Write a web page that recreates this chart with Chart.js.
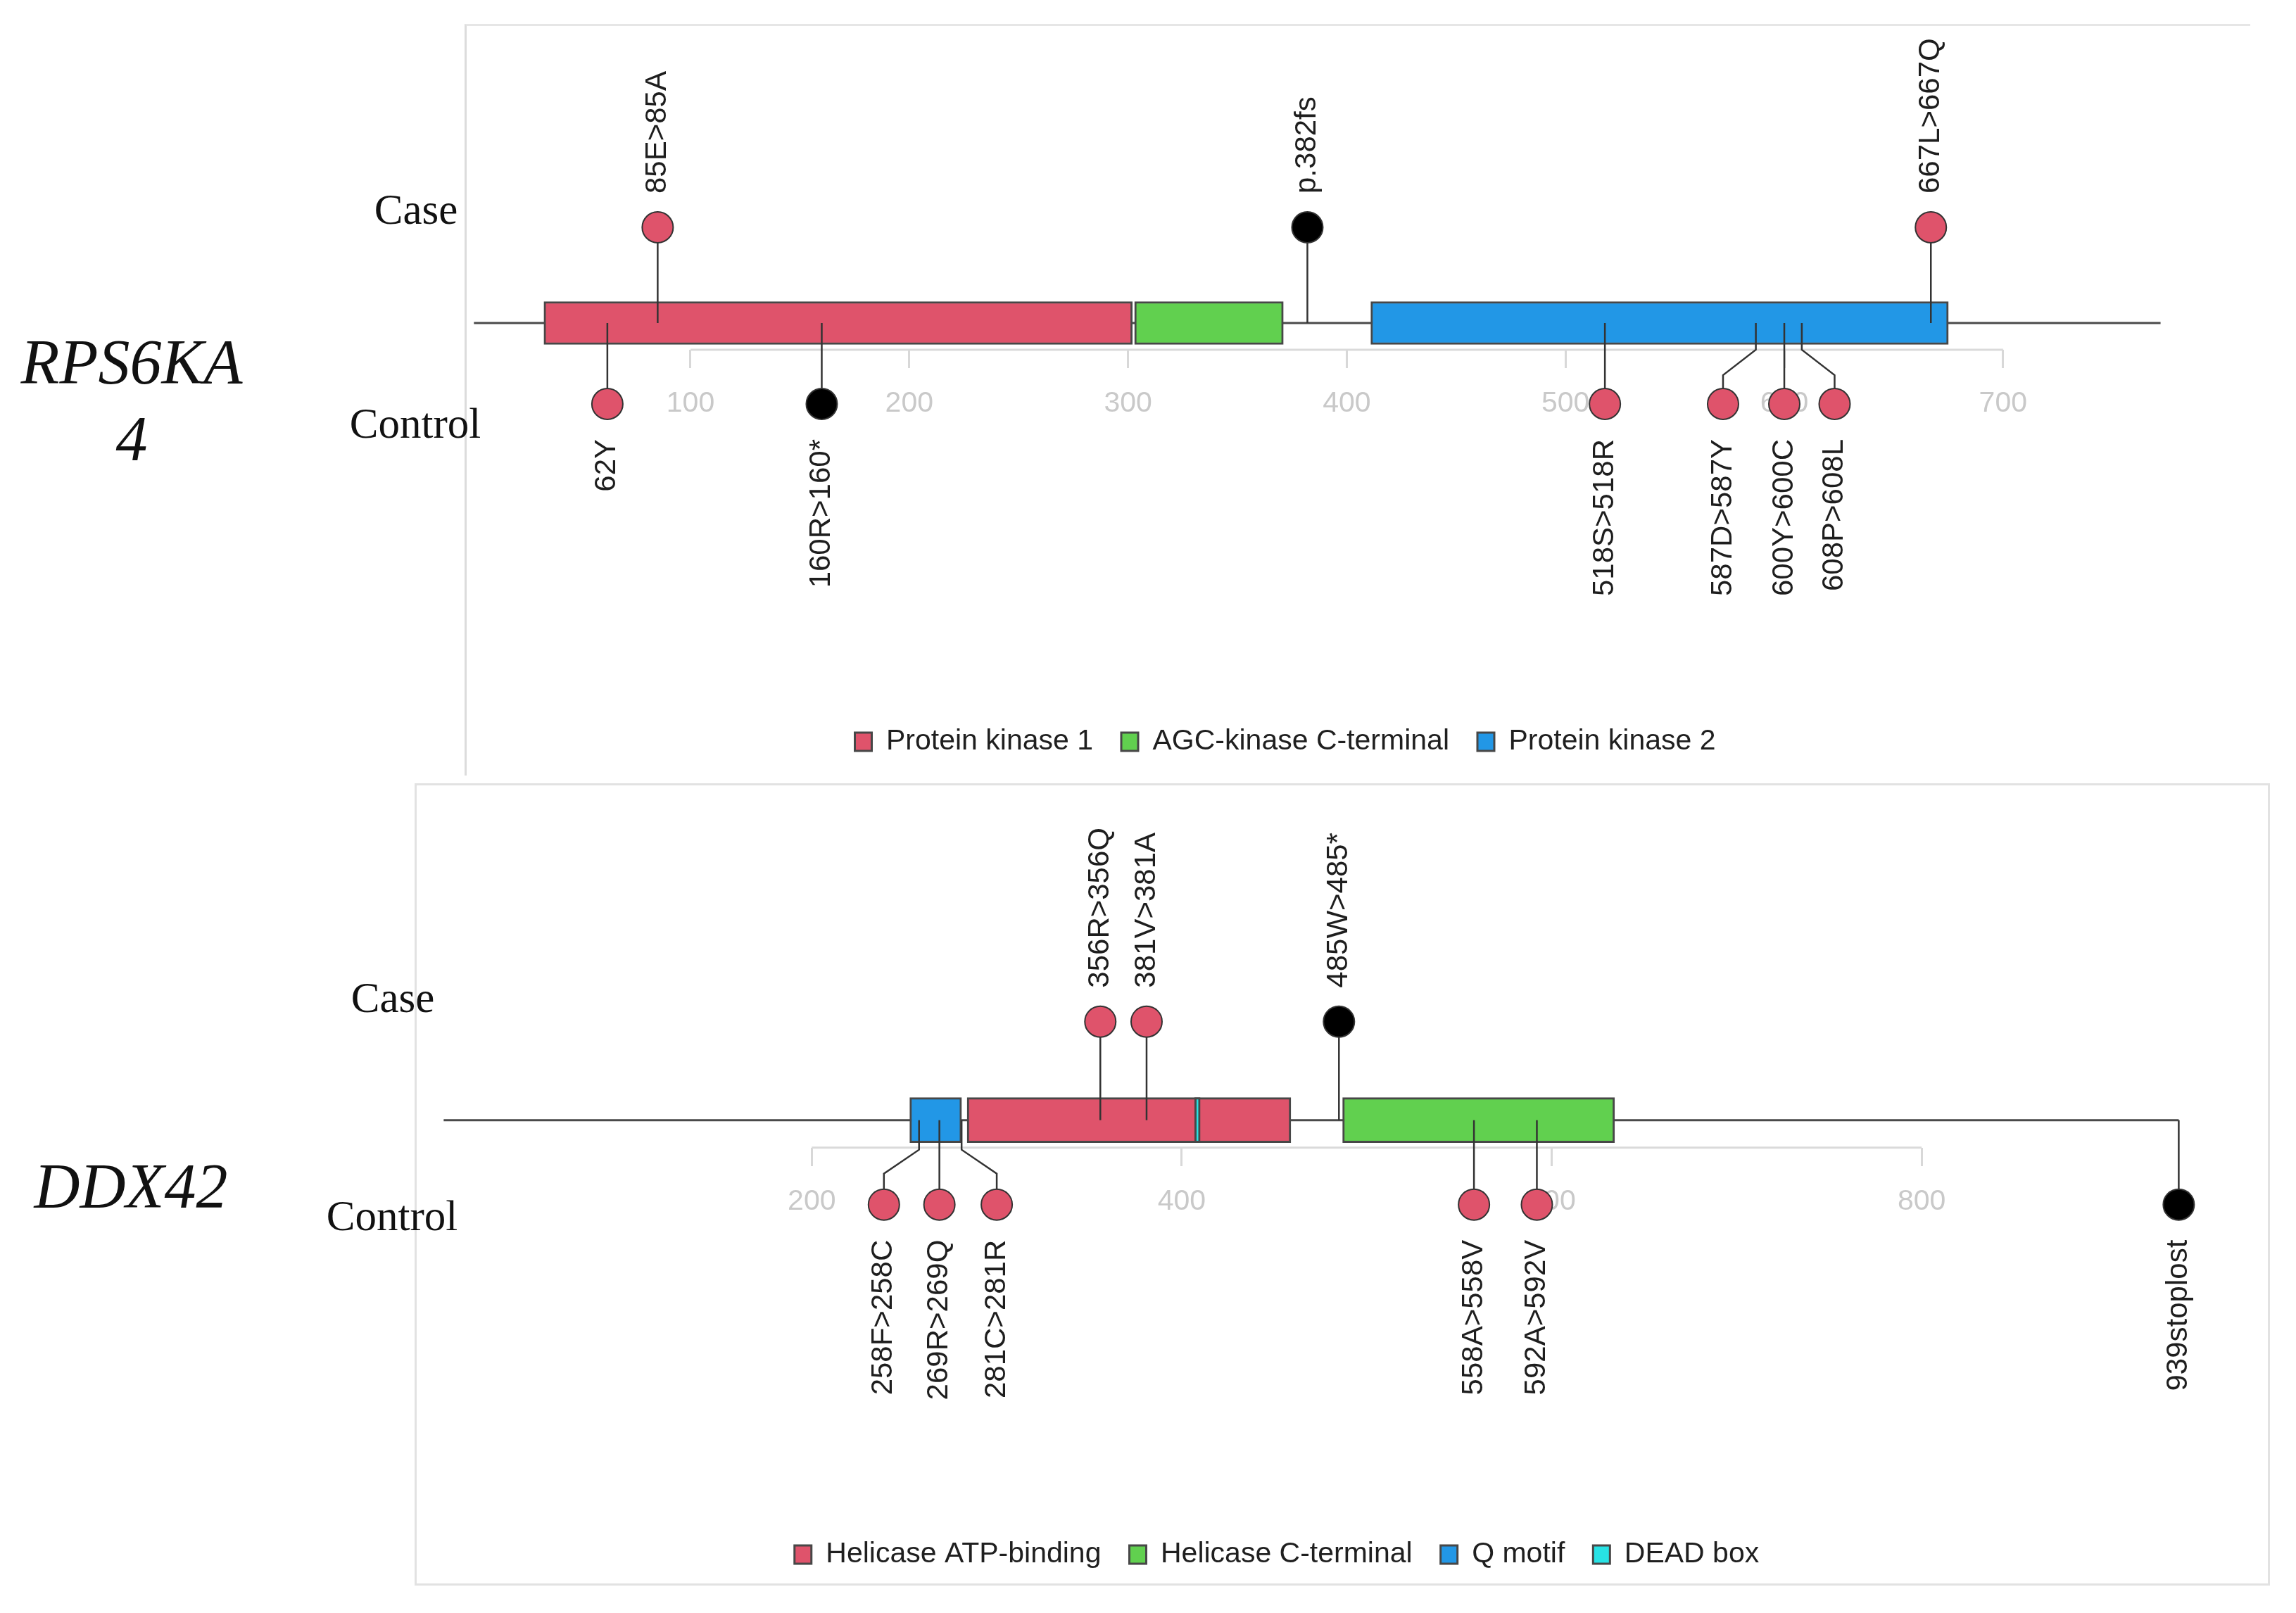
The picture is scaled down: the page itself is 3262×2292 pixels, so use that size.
<!DOCTYPE html>
<html>
<head>
<meta charset="utf-8">
<script src="https://cdn.jsdelivr.net/npm/chart.js@4.4.1/dist/chart.umd.min.js"></script>
<style>
  html, body { margin: 0; padding: 0; background: #fff; }
  body { width: 3262px; height: 2292px; position: relative; overflow: hidden; }
  canvas, .frame, .lab { position: absolute; }
  .frame-top { left: 660px; top: 34px; width: 2534px; height: 1065px; border-left: 3px solid #dcdcdc; border-top: 3px solid #e6e6e6; }
  .frame-bottom { left: 589px; top: 1113px; width: 2630px; height: 1134px; border: 3px solid #e2e2e2; }
  .lab { font-family: 'Liberation Serif', 'Times New Roman', serif; color: #111; line-height: 1; transform: translate(-50%, -50%); white-space: nowrap; text-align: center; }
  .side { font-size: 61px; }
  .gene { font-size: 90px; font-style: italic; line-height: 109px; }
</style>
</head>
<body>
<div class="frame frame-top"></div>
<div class="frame frame-bottom"></div>
<canvas id="rps" width="2532" height="1064" style="left:560px;top:35px"></canvas>
<canvas id="ddx" width="2618" height="1140" style="left:505px;top:1113px"></canvas>
<div class="lab gene" style="left:187px;top:569px">RPS6KA<br>4</div>
<div class="lab side" style="left:591px;top:297px">Case</div>
<div class="lab side" style="left:590px;top:601px">Control</div>
<div class="lab gene" style="left:186px;top:1685px">DDX42</div>
<div class="lab side" style="left:558px;top:1417px">Case</div>
<div class="lab side" style="left:557px;top:1727px">Control</div>
<script>
// RPS6KA4
const rpsDomainNames = ['Protein kinase 1', 'AGC-kinase C-terminal', 'Protein kinase 2']
const rpsDomainStart = [33, 303, 411]
const rpsDomainEnd = [302, 371, 675]
const rpsBackbone = [1, 772]
const rpsTicks = [100, 200, 300, 400, 500, 600, 700]
const rpsCasePos = [85, 382, 667]
const rpsCaseLabels = ['85E>85A', 'p.382fs', '667L>667Q']
const rpsCaseType = ['missense', 'truncating', 'missense']
const rpsCtrlPos = [62, 160, 518, 587, 600, 608]
const rpsCtrlShown = [62, 160, 518, 572, 600, 623]
const rpsCtrlLabels = ['62Y', '160R>160*', '518S>518R', '587D>587Y', '600Y>600C', '608P>608L']
const rpsCtrlType = ['missense', 'truncating', 'missense', 'missense', 'missense', 'missense']

// DDX42
const ddxDomainNames = ['Helicase ATP-binding', 'Helicase C-terminal', 'Q motif', 'DEAD box']
const ddxDomainStart = [284, 487, 253, 407]
const ddxDomainEnd = [459, 634, 281, 410]
const ddxBackbone = [1, 939]
const ddxTicks = [200, 400, 600, 800]
const ddxCasePos = [356, 381, 485]
const ddxCaseLabels = ['356R>356Q', '381V>381A', '485W>485*']
const ddxCaseType = ['missense', 'missense', 'truncating']
const ddxCtrlPos = [258, 269, 281, 558, 592, 939]
const ddxCtrlShown = [239, 269, 300, 558, 592, 939]
const ddxCtrlLabels = ['258F>258C', '269R>269Q', '281C>281R', '558A>558V', '592A>592V', '939stoplost']
const ddxCtrlType = ['missense', 'missense', 'missense', 'missense', 'missense', 'truncating']

const domainPalette = ['#DF536B', '#61D04F', '#2297E6', '#28E2E5']
const pink = '#DF536B'
const sans = "'Liberation Sans', Arial, Helvetica, sans-serif"

const stemLabels = {
  id: 'stemLabels',
  afterDatasetsDraw(chart) {
    const ctx = chart.ctx
    chart.data.datasets.forEach((ds, i) => {
      if (!ds.tags) return
      const meta = chart.getDatasetMeta(i)
      ctx.save()
      ctx.font = '42px ' + sans
      ctx.fillStyle = '#1e1e1e'
      ctx.textBaseline = 'middle'
      meta.data.forEach((pt, j) => {
        ctx.save()
        ctx.translate(pt.x, pt.y)
        ctx.rotate(-Math.PI / 2)
        ctx.textAlign = ds.tagSide === 'up' ? 'left' : 'right'
        ctx.fillText(ds.tags[j], ds.tagSide === 'up' ? 48 : -50, 0)
        ctx.restore()
      })
      ctx.restore()
    })
  }
}

function stem(pts) {
  return {
    type: 'line', showLine: true, data: pts.map(p => ({ x: p[0], y: p[1] })),
    borderColor: '#333', borderWidth: 2.5, pointRadius: 0, order: 1, clip: false
  }
}

function makeChart(id, o) {
  const headColor = t => t === 'truncating' ? '#000' : pink
  const datasets = [
    {
      type: 'scatter', label: 'Case', data: o.casePos.map(p => ({ x: p, y: o.caseY })),
      tags: o.caseLabels, tagSide: 'up', order: 0, clip: false,
      pointRadius: 22, pointBackgroundColor: o.caseType.map(headColor), pointBorderColor: '#333', pointBorderWidth: 2
    },
    {
      type: 'scatter', label: 'Control', data: o.ctrlShown.map(p => ({ x: p, y: o.ctrlY })),
      tags: o.ctrlLabels, tagSide: 'down', order: 0, clip: false,
      pointRadius: 22, pointBackgroundColor: o.ctrlType.map(headColor), pointBorderColor: '#333', pointBorderWidth: 2
    }
  ]
  o.casePos.forEach(p => datasets.push(stem([[p, 0], [p, o.caseY]])))
  o.ctrlPos.forEach((p, i) => {
    const s = o.ctrlShown[i]
    if (s === p) datasets.push(stem([[p, 0], [p, o.ctrlY]]))
    else datasets.push(stem([[p, 0], [p, o.bendA], [s, o.bendB], [s, o.ctrlY]]))
  })
  o.domainNames.forEach((name, i) => datasets.push({
    type: 'bar', label: name, indexAxis: 'y', grouped: false, barThickness: o.boxH,
    data: [{ x: [o.domainStart[i], o.domainEnd[i]], y: 0 }],
    backgroundColor: domainPalette[i], borderColor: '#474747', borderWidth: 3, borderSkipped: false,
    order: 3 - i * 0.1
  }))
  datasets.push({
    type: 'line', showLine: true, data: [{ x: o.backbone[0], y: 0 }, { x: o.backbone[1], y: 0 }],
    borderColor: '#4a4a4a', borderWidth: 3, pointRadius: 0, order: 4, clip: false
  })
  datasets.push({
    type: 'line', showLine: true,
    data: [{ x: o.ticks[0], y: o.axisY }, { x: o.ticks[o.ticks.length - 1], y: o.axisY }],
    borderColor: '#dadada', borderWidth: 3, pointRadius: 0, order: 5
  })

  const chart = new Chart(document.getElementById(id), {
    type: 'scatter',
    data: { datasets },
    options: {
      responsive: false,
      animation: false,
      events: [],
      devicePixelRatio: 1,
      layout: { padding: { left: 0, right: 0, top: 0, bottom: o.padBottom } },
      scales: {
        x: {
          type: 'linear', min: 0, max: 1000, offset: false, position: { y: o.axisY },
          afterBuildTicks: axis => { axis.ticks = o.ticks.map(v => ({ value: v })) },
          border: { display: false },
          grid: { offset: false, drawOnChartArea: false, drawTicks: true, tickLength: 26, tickColor: '#d8d8d8', tickWidth: 3 },
          ticks: { color: '#c9c9c9', font: { size: 41, family: sans }, padding: 26, maxRotation: 0, autoSkip: false }
        },
        y: { type: 'linear', display: false, offset: false, grid: { offset: false }, min: -500, max: 500 }
      },
      plugins: {
        legend: {
          position: 'bottom',
          labels: {
            filter: (item, data) => data.datasets[item.datasetIndex].type === 'bar',
            sort: (a, b) => a.datasetIndex - b.datasetIndex,
            boxWidth: 24, boxHeight: 26, padding: 40, color: '#1f1f1f',
            font: { size: 41, family: sans }
          }
        },
        tooltip: { enabled: false }
      }
    },
    plugins: [stemLabels]
  })

  // fit the scale ranges to the laid-out plot area: 1 y unit = 1 px, x at the panel's residue scale
  for (let k = 0; k < 3; k++) {
    const a = chart.chartArea
    chart.options.scales.x.min = (a.left - o.zeroX) / o.pxPerAa
    chart.options.scales.x.max = (a.right - o.zeroX) / o.pxPerAa
    chart.options.scales.y.max = o.baseY - a.top
    chart.options.scales.y.min = o.baseY - a.bottom
    chart.update()
  }
  return chart
}

makeChart('rps', {
  domainNames: rpsDomainNames, domainStart: rpsDomainStart, domainEnd: rpsDomainEnd,
  backbone: rpsBackbone, ticks: rpsTicks,
  casePos: rpsCasePos, caseLabels: rpsCaseLabels, caseType: rpsCaseType,
  ctrlPos: rpsCtrlPos, ctrlShown: rpsCtrlShown, ctrlLabels: rpsCtrlLabels, ctrlType: rpsCtrlType,
  zeroX: 110.2, pxPerAa: 3.108, baseY: 424,
  caseY: 136, ctrlY: -115, axisY: -38, bendA: -38, bendB: -74, boxH: 61, padBottom: 14.5
})

makeChart('ddx', {
  domainNames: ddxDomainNames, domainStart: ddxDomainStart, domainEnd: ddxDomainEnd,
  backbone: ddxBackbone, ticks: ddxTicks,
  casePos: ddxCasePos, caseLabels: ddxCaseLabels, caseType: ddxCaseType,
  ctrlPos: ddxCtrlPos, ctrlShown: ddxCtrlShown, ctrlLabels: ddxCtrlLabels, ctrlType: ddxCtrlType,
  zeroX: 122.7, pxPerAa: 2.628, baseY: 478.7,
  caseY: 140, ctrlY: -120, axisY: -39, bendA: -42, bendB: -76, boxH: 64, padBottom: 13.5
})
</script>
</body>
</html>
